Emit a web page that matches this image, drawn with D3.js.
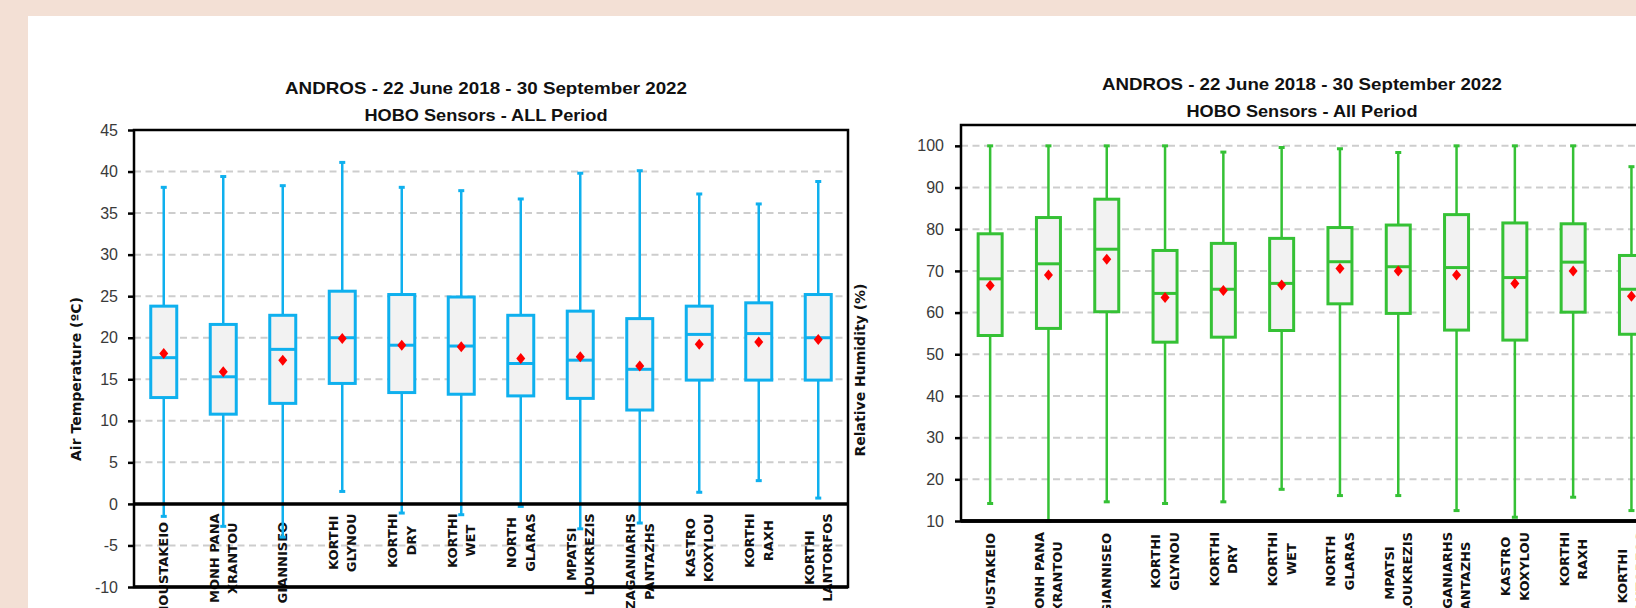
<!DOCTYPE html>
<html>
<head>
<meta charset="utf-8">
<script src="https://cdn.jsdelivr.net/npm/d3@7"></script>
<style>
  html, body { margin: 0; padding: 0; background: #f3e0d5; overflow: hidden; }
  svg { display: block; }
</style>
</head>
<body>
<svg id="chart" width="1636" height="608"></svg>
<script>
// Stations (label lines as they are wrapped under the axis)
const stations = [
  ["MOUSTAKEIO"],
  ["MONH PANA", "XRANTOU"],
  ["GIANNISEO"],
  ["KORTHI", "GLYNOU"],
  ["KORTHI", "DRY"],
  ["KORTHI", "WET"],
  ["NORTH", "GLARAS"],
  ["MPATSI", "LOUKREZIS"],
  ["ZAGANIARHS", "PANTAZHS"],
  ["KASTRO", "KOXYLOU"],
  ["KORTHI", "RAXH"],
  ["KORTHI", "LANTORFOS"]
];

// Air temperature (°C) statistics per station
const tempMax    = [38.1, 39.4, 38.3, 41.1, 38.1, 37.7, 36.7, 39.8, 40.1, 37.3, 36.1, 38.8];
const tempQ3     = [23.8, 21.6, 22.7, 25.6, 25.2, 24.9, 22.7, 23.2, 22.3, 23.8, 24.2, 25.2];
const tempMedian = [17.6, 15.3, 18.6, 20.0, 19.1, 19.0, 16.9, 17.3, 16.2, 20.4, 20.5, 20.0];
const tempMean   = [18.1, 15.9, 17.3, 19.9, 19.1, 18.9, 17.5, 17.7, 16.6, 19.2, 19.5, 19.8];
const tempQ1     = [12.8, 10.8, 12.1, 14.5, 13.4, 13.2, 13.0, 12.7, 11.3, 14.9, 14.9, 14.9];
const tempMin    = [-1.5, -2.7, -4.0, 1.5, -1.1, -1.3, -0.3, -3.0, -2.3, 1.4, 2.8, 0.7];
const tempTicks  = [-10, -5, 0, 5, 10, 15, 20, 25, 30, 35, 40, 45];

// Relative humidity (%) statistics per station
const rhMax    = [100, 100, 100, 100, 98.5, 99.6, 99.3, 98.4, 100, 100, 100, 95.0];
const rhQ3     = [78.9, 82.8, 87.2, 74.9, 76.6, 77.8, 80.4, 81.0, 83.5, 81.5, 81.3, 73.7];
const rhMedian = [68.1, 71.7, 75.2, 64.6, 65.6, 67.0, 72.2, 71.0, 70.8, 68.4, 72.1, 65.6];
const rhMean   = [66.5, 69.0, 72.8, 63.6, 65.3, 66.6, 70.6, 70.0, 69.0, 67.0, 70.0, 63.9];
const rhQ1     = [54.5, 56.2, 60.2, 52.9, 54.1, 55.7, 62.1, 59.8, 55.8, 53.4, 60.1, 54.8];
const rhMin    = [14.2, 10.0, 14.6, 14.2, 14.6, 17.6, 16.1, 16.1, 12.5, 10.9, 15.7, 12.5];
const rhTicks  = [10, 20, 30, 40, 50, 60, 70, 80, 90, 100];

const svg = d3.select("#chart");

// white sheet behind both charts
svg.append("rect")
  .attr("x", 28).attr("y", 16)
  .attr("width", 1636 - 28).attr("height", 608 - 16)
  .attr("fill", "#ffffff");

function drawBoxChart(cfg) {
  const n = stations.length;
  const x = d3.scaleBand()
    .domain(d3.range(n))
    .range([cfg.left, cfg.left + cfg.band * n]);
  const y = d3.scaleLinear()
    .domain(cfg.domain)
    .range([cfg.bottom, cfg.top]);
  const x0 = x.range()[0], x1 = x.range()[1];
  const cx = i => x(i) + x.bandwidth() / 2;

  const g = svg.append("g");

  // titles
  cfg.titles.forEach((t, k) => {
    g.append("text")
      .attr("x", cfg.titleX)
      .attr("y", cfg.titleY[k])
      .attr("text-anchor", "middle")
      .attr("font-family", "'Liberation Sans', Arial, sans-serif")
      .attr("font-weight", "bold")
      .attr("font-size", 17)
      .attr("fill", "#111")
      .attr("textLength", cfg.titleW[k])
      .attr("lengthAdjust", "spacingAndGlyphs")
      .text(t);
  });

  // dashed horizontal gridlines
  g.append("g").selectAll("line")
    .data(cfg.ticks.filter(t => t > cfg.domain[0] && t < cfg.domain[1] && t !== cfg.base))
    .join("line")
    .attr("x1", x0).attr("x2", x1)
    .attr("y1", d => y(d)).attr("y2", d => y(d))
    .attr("stroke", "#cdcdcd")
    .attr("stroke-width", 2)
    .attr("stroke-dasharray", "7,4.5");

  // station labels, rotated, lines centred inside a top-aligned block
  const labelG = g.append("g")
    .attr("font-family", "'DejaVu Sans', Verdana, sans-serif")
    .attr("font-weight", "bold")
    .attr("font-size", 13)
    .attr("fill", "#111");
  stations.forEach((lines, i) => {
    const top = y(cfg.base) + (lines.length === 1 ? cfg.singleOffset : cfg.labelOffset);
    const grp = labelG.append("g")
      .attr("transform", `translate(${cx(i)},${top}) rotate(-90)`);
    const texts = grp.selectAll("text")
      .data(lines)
      .join("text")
      .attr("text-anchor", "middle")
      .attr("y", (d, k) => (k - (lines.length - 1) / 2) * cfg.lineGap)
      .attr("dy", "0.36em")
      .text(d => d);
    let blockLen = 0;
    texts.each(function () { blockLen = Math.max(blockLen, this.getComputedTextLength()); });
    texts.attr("x", -blockLen / 2);
  });

  // box plots
  const boxW = cfg.boxW, capW = 6;
  const boxes = g.append("g");
  d3.range(n).forEach(i => {
    const b = boxes.append("g")
      .attr("stroke", cfg.color)
      .attr("fill", "none");
    b.append("line")
      .attr("x1", cx(i)).attr("x2", cx(i))
      .attr("y1", y(cfg.max[i])).attr("y2", y(cfg.min[i]))
      .attr("stroke-width", 2.5);
    [cfg.max[i], cfg.min[i]].forEach(v => {
      b.append("line")
        .attr("x1", cx(i) - capW / 2).attr("x2", cx(i) + capW / 2)
        .attr("y1", y(v)).attr("y2", y(v))
        .attr("stroke-width", 3);
    });
    b.append("rect")
      .attr("x", cx(i) - boxW / 2)
      .attr("y", y(cfg.q3[i]))
      .attr("width", boxW)
      .attr("height", y(cfg.q1[i]) - y(cfg.q3[i]))
      .attr("fill", "#f2f2f2")
      .attr("stroke-width", 3);
    b.append("line")
      .attr("x1", cx(i) - boxW / 2).attr("x2", cx(i) + boxW / 2)
      .attr("y1", y(cfg.median[i])).attr("y2", y(cfg.median[i]))
      .attr("stroke-width", 3);
    const my = y(cfg.mean[i]), mx = cx(i);
    boxes.append("path")
      .attr("d", `M${mx},${my - 5.5}L${mx + 4.5},${my}L${mx},${my + 5.5}L${mx - 4.5},${my}Z`)
      .attr("fill", "#ff0000");
  });

  // zero / base line
  g.append("line")
    .attr("x1", x0).attr("x2", x1)
    .attr("y1", y(cfg.base)).attr("y2", y(cfg.base))
    .attr("stroke", "#000").attr("stroke-width", 3.5);

  // plot frame
  g.append("rect")
    .attr("x", x0).attr("y", cfg.top)
    .attr("width", x1 - x0).attr("height", cfg.bottom - cfg.top)
    .attr("fill", "none")
    .attr("stroke", "#000")
    .attr("stroke-width", 2.5);
  g.append("line")
    .attr("x1", x0).attr("x2", x1)
    .attr("y1", cfg.bottom).attr("y2", cfg.bottom)
    .attr("stroke", "#000").attr("stroke-width", 3.5);

  // y axis
  const axis = g.append("g")
    .attr("transform", `translate(${x0},0)`)
    .call(d3.axisLeft(y)
      .tickValues(cfg.ticks)
      .tickFormat(d => String(d))
      .tickSize(6)
      .tickPadding(cfg.tickPad));
  axis.select(".domain").remove();
  axis.selectAll(".tick line").attr("stroke", "#000").attr("stroke-width", 2.5);
  axis.selectAll(".tick text")
    .attr("font-family", "'Liberation Sans', Arial, sans-serif")
    .attr("font-size", 16)
    .attr("fill", "#3a3a3a");

  // y axis title
  g.append("text")
    .attr("transform", `translate(${cfg.yTitleX},${cfg.yTitleY}) rotate(-90)`)
    .attr("text-anchor", "middle")
    .attr("dy", "0.35em")
    .attr("font-family", "'DejaVu Sans', Verdana, sans-serif")
    .attr("font-weight", "bold")
    .attr("font-size", 14)
    .attr("fill", "#111")
    .text(cfg.yTitle);
}

drawBoxChart({
  left: 134, band: 59.5, top: 130, bottom: 587,
  domain: [-10, 45], base: 0, ticks: tempTicks,
  max: tempMax, q3: tempQ3, median: tempMedian, mean: tempMean, q1: tempQ1, min: tempMin,
  color: "#0fb0ee", boxW: 26, tickPad: 10,
  labelOffset: 9.5, singleOffset: 18, lineGap: 18.5,
  titles: ["ANDROS - 22 June 2018 - 30 September 2022", "HOBO Sensors - ALL Period"],
  titleX: 486, titleY: [94, 121], titleW: [402, 243],
  yTitle: "Air Temperature (ºC)", yTitleX: 76, yTitleY: 379
});

drawBoxChart({
  left: 961, band: 58.3, top: 125, bottom: 521,
  domain: [10, 105], base: 10, ticks: rhTicks,
  max: rhMax, q3: rhQ3, median: rhMedian, mean: rhMean, q1: rhQ1, min: rhMin,
  color: "#35c135", boxW: 24, tickPad: 11,
  labelOffset: 11, singleOffset: 12, lineGap: 18.5,
  titles: ["ANDROS - 22 June 2018 - 30 September 2022", "HOBO Sensors - All Period"],
  titleX: 1302, titleY: [90, 116.5], titleW: [400, 231],
  yTitle: "Relative Humidity (%)", yTitleX: 860, yTitleY: 370
});
</script>
</body>
</html>
